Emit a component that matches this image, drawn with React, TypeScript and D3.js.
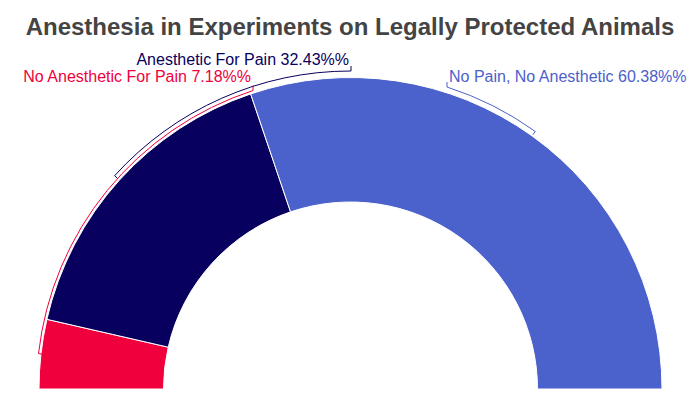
import { useEffect, useRef } from "react"
import * as d3 from "d3"

const title = "Anesthesia in Experiments on Legally Protected Animals"
const categories = ["No Anesthetic For Pain", "Anesthetic For Pain", "No Pain, No Anesthetic"]
const values = [7.18, 32.43, 60.38]
const colors = ["#f0003c", "#08005e", "#4b61cb"]

// label layout: anchor x, baseline y, text-anchor, bracket radius
const labelX = [251, 349, 449]
const labelY = [82, 65, 82]
const labelAnchor = ["end", "end", "start"]
const bracketR = [314, 318, 317]

const App = () => {
    const svgRef = useRef<SVGSVGElement>(null)
    const width = 700
    const height = 397

    useEffect(() => {
        const cx = 350.5
        const cy = 389
        const outerR = 311.5
        const innerR = 187

        const svg = d3.select(svgRef.current)
        svg.selectAll('*').remove()

        svg.append('text')
            .attr('x', width / 2)
            .attr('y', 35)
            .attr('text-anchor', 'middle')
            .attr('font-family', 'Liberation Sans, Arial, sans-serif')
            .attr('font-weight', 'bold')
            .attr('font-size', 24)
            .attr('fill', '#444')
            .text(title)

        const pie = d3.pie<number>()
            .sort(null)
            .startAngle(-Math.PI / 2)
            .endAngle(Math.PI / 2)
        const arcs = pie(values)

        const arc = d3.arc<d3.PieArcDatum<number>>()
            .innerRadius(innerR)
            .outerRadius(outerR)

        const g = svg.append('g').attr('transform', `translate(${cx},${cy})`)

        g.selectAll('path.slice')
            .data(arcs)
            .join('path')
            .attr('class', 'slice')
            .attr('d', arc)
            .attr('fill', (_, i) => colors[i])
            .attr('stroke', '#fff')
            .attr('stroke-width', 1)

        // brackets from slice middle to label
        arcs.forEach((a, i) => {
            const r = bracketR[i]
            const mid = (a.startAngle + a.endAngle) / 2
            const end = Math.asin((labelX[i] + (labelAnchor[i] === 'end' ? 2 : -2) - 350.5) / r)
            const pt = (ang: number, rr: number) => [rr * Math.sin(ang), -rr * Math.cos(ang)]
            const p = d3.path()
            const t0 = pt(mid, r - 4)
            const s0 = pt(mid, r)
            const e0 = pt(end, r)
            p.moveTo(t0[0], t0[1])
            p.lineTo(s0[0], s0[1])
            p.arc(0, 0, r, mid - Math.PI / 2, end - Math.PI / 2, end < mid)
            p.lineTo(e0[0], e0[1] - 5)
            g.append('path')
                .attr('d', p.toString())
                .attr('fill', 'none')
                .attr('stroke', colors[i])
                .attr('stroke-width', 1)
        })

        svg.selectAll('text.label')
            .data(arcs)
            .join('text')
            .attr('class', 'label')
            .attr('x', (_, i) => labelX[i])
            .attr('y', (_, i) => labelY[i])
            .attr('text-anchor', (_, i) => labelAnchor[i])
            .attr('font-family', 'Liberation Sans, Arial, sans-serif')
            .attr('font-size', 16)
            .attr('fill', (_, i) => colors[i])
            .text((d, i) => `${categories[i]} ${d.data.toFixed(2)}%%`)
    }, [])

    return (
        <svg ref={svgRef} width={width} height={height}
            style={{ position: 'absolute', left: 0, top: 0, background: '#fff' }}></svg>
    )
}

export default App
